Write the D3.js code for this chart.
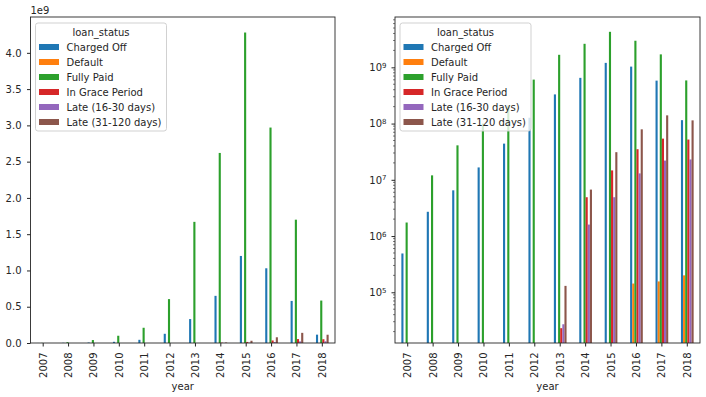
<!DOCTYPE html>
<html lang="en">
<head>
<meta charset="UTF-8">
<title>loan_status by year</title>
<script src="https://d3js.org/d3.v7.min.js"></script>
<style>
    body { margin: 0; background: white; }
    text { font-family: 'DejaVu Sans', sans-serif; fill: #262626; }
</style>
</head>
<body>
<div id="chart"></div>
<script>
// data
const years = ["2007","2008","2009","2010","2011","2012","2013","2014","2015","2016","2017","2018"];
const statuses = ["Charged Off","Default","Fully Paid","In Grace Period","Late (16-30 days)","Late (31-120 days)"];
const colors = ["#1f77b4","#ff7f0e","#2ca02c","#d62728","#9467bd","#8c564b"];

const chargedOff = [4.9e5, 2.7e6, 6.5e6, 1.66e7, 4.4e7, 1.27e8, 3.3e8, 6.5e8, 1.2e9, 1.03e9, 5.8e8, 1.15e8];
const defaulted  = [0, 0, 0, 0, 0, 0, 0, 0, 0, 1.43e5, 1.56e5, 2.0e5];
const fullyPaid  = [1.74e6, 1.2e7, 4.1e7, 1.0e8, 2.1e8, 6.05e8, 1.67e9, 2.62e9, 4.28e9, 2.97e9, 1.70e9, 5.85e8];
const inGrace    = [0, 0, 0, 0, 0, 0, 2.3e4, 4.9e6, 1.47e7, 3.5e7, 5.4e7, 5.2e7];
const late16     = [0, 0, 0, 0, 0, 0, 2.7e4, 1.6e6, 4.9e6, 1.3e7, 2.2e7, 2.3e7];
const late31     = [0, 0, 0, 0, 0, 0, 1.3e5, 6.7e6, 3.1e7, 7.9e7, 1.4e8, 1.14e8];

const series = [chargedOff, defaulted, fullyPaid, inGrace, late16, late31];

const W = 706, H = 397;
const svg = d3.select("#chart").append("svg")
    .attr("width", W).attr("height", H);

const yTop = 17, yBottom = 343;

function drawPanel(left, right, logScale) {
    const g = svg.append("g");
    const x = d3.scaleBand().domain(years).range([left, right]);
    const allVals = series.flat().filter(v => v > 0);
    const vmax = d3.max(allVals);
    let y;
    if (logScale) {
        const lo = Math.log10(d3.min(allVals)), hi = Math.log10(vmax);
        const m = (hi - lo) * 0.05;
        y = d3.scaleLog().domain([Math.pow(10, lo - m), Math.pow(10, hi + m)]).range([yBottom, yTop]);
    } else {
        y = d3.scaleLinear().domain([0, vmax * 1.05]).range([yBottom, yTop]);
    }

    // bars, pandas-style grouping: total width 0.5 of a slot
    const groupW = x.bandwidth() * 0.5;
    const bw = groupW / series.length;
    series.forEach((vals, i) => {
        g.append("g").selectAll("rect")
            .data(vals.map((v, j) => ({ year: years[j], v: v })).filter(d => d.v > 0))
            .join("rect")
            .attr("x", d => x(d.year) + x.bandwidth() / 2 - groupW / 2 + i * bw)
            .attr("width", bw)
            .attr("y", d => y(d.v))
            .attr("height", d => yBottom - y(d.v))
            .attr("fill", colors[i]);
    });

    // x axis
    const xa = g.append("g").attr("transform", `translate(0,${yBottom})`)
        .call(d3.axisBottom(x).tickSizeOuter(0).tickSize(3.5).tickPadding(3.5));
    xa.select(".domain").remove();
    xa.selectAll("line").attr("stroke", "#262626");
    xa.selectAll("text")
        .attr("transform", "rotate(-90)")
        .attr("text-anchor", "end")
        .attr("x", -9.5).attr("y", 0).attr("dy", "0.35em")
        .style("font-size", "10px");
    g.append("text").attr("x", (left + right) / 2).attr("y", 390)
        .attr("text-anchor", "middle").style("font-size", "10px").text("year");

    // y axis
    const ya = g.append("g").attr("transform", `translate(${left},0)`);
    if (logScale) {
        ya.call(d3.axisLeft(y).tickValues([1e5, 1e6, 1e7, 1e8, 1e9]).tickSize(3.5).tickPadding(5).tickFormat(() => ""));
        ya.selectAll(".tick").each(function (d) {
            const t = d3.select(this).select("text").text(null);
            t.append("tspan").text("10");
            t.append("tspan").attr("dy", "-0.45em").style("font-size", "7px").text(Math.round(Math.log10(d)));
        });
        const minors = [];
        for (let e = 4; e <= 9; e++) for (let k = 2; k <= 9; k++) {
            const v = k * Math.pow(10, e);
            if (v >= y.domain()[0] && v <= y.domain()[1]) minors.push(v);
        }
        ya.append("g").selectAll("line").data(minors).join("line")
            .attr("x1", 0).attr("x2", -2)
            .attr("y1", d => y(d)).attr("y2", d => y(d))
            .attr("stroke", "#262626").attr("stroke-width", 0.6);
    } else {
        ya.call(d3.axisLeft(y).tickValues(d3.range(0, 4.01e9, 0.5e9)).tickSize(3.5).tickPadding(5.5)
            .tickFormat(d => (d / 1e9).toFixed(1)));
        g.append("text").attr("x", left).attr("y", 14).style("font-size", "10px").text("1e9");
    }
    ya.select(".domain").remove();
    ya.selectAll(".tick line").attr("stroke", "#262626");
    ya.selectAll(".tick text").style("font-size", "10px");

    // frame
    g.append("rect").attr("x", left).attr("y", yTop)
        .attr("width", right - left).attr("height", yBottom - yTop)
        .attr("fill", "none").attr("stroke", "#262626").attr("stroke-width", 0.9);

    // legend
    const lx = left + 5, ly = 23;
    const lg = g.append("g");
    lg.append("rect").attr("x", lx).attr("y", ly).attr("width", 131).attr("height", 108)
        .attr("rx", 2.5).attr("fill", "white").attr("fill-opacity", 0.8)
        .attr("stroke", "#cccccc").attr("stroke-width", 0.9);
    lg.append("text").attr("x", lx + 65.5).attr("y", ly + 13)
        .attr("text-anchor", "middle").style("font-size", "10px").text("loan_status");
    statuses.forEach((s, i) => {
        const cy = ly + 24 + i * 15;
        lg.append("rect").attr("x", lx + 3.5).attr("y", cy - 3).attr("width", 20).attr("height", 6)
            .attr("fill", colors[i]);
        lg.append("text").attr("x", lx + 31).attr("y", cy + 3.6)
            .style("font-size", "10px").text(s);
    });
}

drawPanel(30.5, 335, false);
drawPanel(395, 700, true);
</script>
</body>
</html>
